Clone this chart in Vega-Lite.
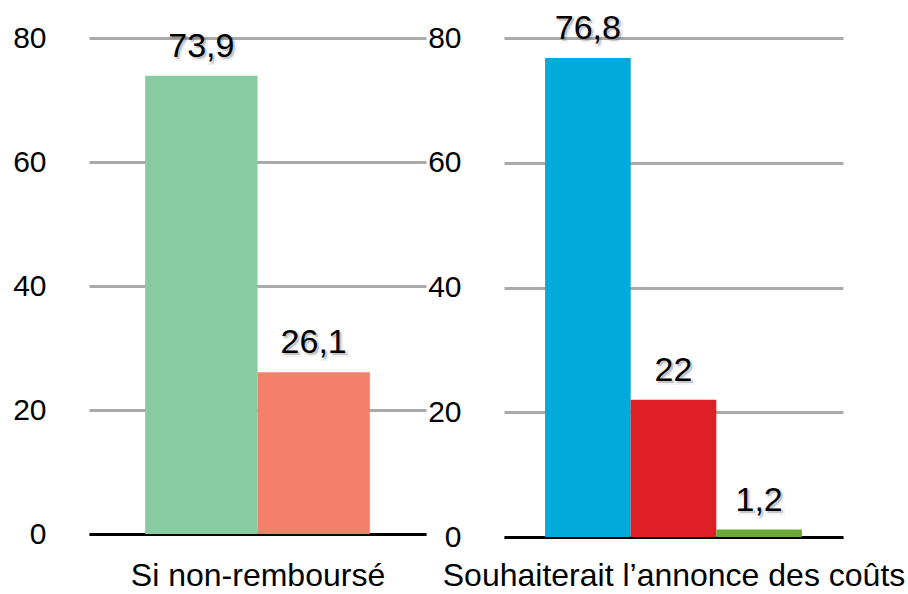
{
  "$schema": "https://vega.github.io/schema/vega-lite/v6.json",
  "padding": {"left": 12, "top": 11, "right": 5, "bottom": 5},
  "spacing": 1,
  "config": {
    "view": {"stroke": null},
    "font": "Liberation Sans",
    "axis": {"labelFont": "Liberation Sans", "titleFont": "Liberation Sans"}
  },
  "resolve": {"scale": {"color": "shared"}},
  "hconcat": [
    {
      "width": 337,
      "height": 496,
      "data": {"values": [
        {"item": "Oui", "value": 73.9, "label": "73,9"},
        {"item": "Non", "value": 26.1, "label": "26,1"}
      ]},
      "encoding": {
        "x": {"field": "item", "type": "nominal", "sort": null,
          "scale": {"paddingInner": 0, "paddingOuter": 0.5},
          "axis": {"labels": false, "ticks": false, "grid": false, "domainColor": "black", "domainWidth": 3,
            "title": "Si non-remboursé", "titleFontSize": 32, "titleFontWeight": "normal", "titleColor": "black", "titlePadding": 26}},
        "y": {"field": "value", "type": "quantitative", "scale": {"domain": [0, 80]},
          "axis": {"values": [0, 20, 40, 60, 80], "title": null, "domain": false, "ticks": false, "labelPadding": 43,
            "labelFontSize": 30, "labelColor": "black", "gridColor": "#aaaaaa", "gridWidth": 3}}
      },
      "layer": [
        {"mark": {"type": "bar"},
         "encoding": {"color": {"field": "item", "type": "nominal", "legend": null,
           "scale": {"domain": ["Oui", "Non", "Oui2", "Non2", "NSP"], "range": ["#88cba1", "#f4806c", "#00aadb", "#de1f26", "#6aaa3a"]}}}},
        {"mark": {"type": "text", "baseline": "alphabetic", "dy": -17, "dx": 2, "fontSize": 34, "color": "#555555", "opacity": 0.35, "stroke": "#777777", "strokeWidth": 4, "strokeOpacity": 0.25},
         "encoding": {"text": {"field": "label"}}},
        {"mark": {"type": "text", "baseline": "alphabetic", "dy": -19, "fontSize": 34, "color": "black"},
         "encoding": {"text": {"field": "label"}}}
      ]
    },
    {
      "width": 339,
      "height": 499,
      "data": {"values": [
        {"item": "Oui2", "value": 76.8, "label": "76,8"},
        {"item": "Non2", "value": 22, "label": "22"},
        {"item": "NSP", "value": 1.2, "label": "1,2"}
      ]},
      "encoding": {
        "x": {"field": "item", "type": "nominal", "sort": null,
          "scale": {"paddingInner": 0, "paddingOuter": 0.48},
          "axis": {"labels": false, "ticks": false, "grid": false, "domainColor": "black", "domainWidth": 3,
            "title": "Souhaiterait l’annonce des coûts", "titleFontSize": 32, "titleFontWeight": "normal", "titleColor": "black", "titlePadding": 23}},
        "y": {"field": "value", "type": "quantitative", "scale": {"domain": [0, 80]},
          "axis": {"values": [0, 20, 40, 60, 80], "title": null, "domain": false, "ticks": false, "labelPadding": 43,
            "labelFontSize": 30, "labelColor": "black", "gridColor": "#aaaaaa", "gridWidth": 3}}
      },
      "layer": [
        {"mark": {"type": "bar"},
         "encoding": {"color": {"field": "item", "type": "nominal", "legend": null,
           "scale": {"domain": ["Oui", "Non", "Oui2", "Non2", "NSP"], "range": ["#88cba1", "#f4806c", "#00aadb", "#de1f26", "#6aaa3a"]}}}},
        {"mark": {"type": "text", "baseline": "alphabetic", "dy": -17, "dx": 2, "fontSize": 34, "color": "#555555", "opacity": 0.35, "stroke": "#777777", "strokeWidth": 4, "strokeOpacity": 0.25},
         "encoding": {"text": {"field": "label"}}},
        {"mark": {"type": "text", "baseline": "alphabetic", "dy": -19, "fontSize": 34, "color": "black"},
         "encoding": {"text": {"field": "label"}}}
      ]
    }
  ]
}
